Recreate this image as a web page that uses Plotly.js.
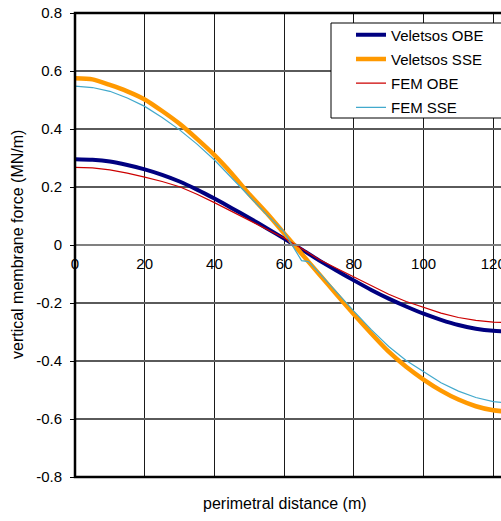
<!DOCTYPE html>
<html><head><meta charset="utf-8">
<script src="https://cdn.plot.ly/plotly-3.0.1.min.js"></script>
<style>html,body{margin:0;padding:0;overflow:hidden;background:#fff;width:501px;height:521px}</style>
</head><body><div id="chart"></div>
<script>
const seriesNames = ['Veletsos OBE','Veletsos SSE','FEM OBE','FEM SSE'];
const xVeletsos = [0,5,10,15,20,25,30,35,40,45,50,55,60,65,70,75,80,85,90,95,100,105,110,115,120,125.66];
const veletsosOBE = [0.296,0.294,0.288,0.276,0.261,0.242,0.219,0.191,0.160,0.127,0.093,0.058,0.022,-0.015,-0.053,-0.088,-0.122,-0.155,-0.185,-0.212,-0.237,-0.258,-0.276,-0.289,-0.296,-0.298];
const veletsosSSE = [0.575,0.571,0.552,0.530,0.502,0.462,0.418,0.366,0.310,0.246,0.175,0.110,0.040,-0.030,-0.100,-0.170,-0.239,-0.305,-0.368,-0.420,-0.464,-0.502,-0.533,-0.556,-0.570,-0.576];
const xFEM = [0,5,10,15,20,25,30,35,40,45,50,55,60,65,67,70,75,80,85,90,95,100,105,110,115,120,125.66];
const femOBE = [0.268,0.266,0.259,0.248,0.234,0.219,0.201,0.175,0.146,0.116,0.086,0.055,0.024,-0.012,-0.027,-0.050,-0.080,-0.110,-0.141,-0.170,-0.195,-0.216,-0.235,-0.250,-0.260,-0.266,-0.268];
const femSSE = [0.548,0.543,0.530,0.507,0.478,0.440,0.397,0.348,0.293,0.232,0.168,0.105,0.045,-0.054,-0.057,-0.095,-0.162,-0.228,-0.292,-0.350,-0.398,-0.438,-0.475,-0.504,-0.526,-0.540,-0.546];
const xTicks = [0,20,40,60,80,100,120];
const yTicks = [0.8,0.6,0.4,0.2,0,-0.2,-0.4,-0.6,-0.8];
const yTickText = ['0.8','0.6','0.4','0.2','0','-0.2','-0.4','-0.6','-0.8'];
const xTitle = 'perimetral distance (m)';
const yTitle = 'vertical membrane force (MN/m)';

const font = 'Liberation Sans, Arial, sans-serif';
const colors = ['#000080','#FF9900','#CC0000','#42A9CC'];
const widths = [4,4.5,1.2,1.2];
const xs = [xVeletsos,xVeletsos,xFEM,xFEM];
const ys = [veletsosOBE,veletsosSSE,femOBE,femSSE];
const traces = seriesNames.map((n,i)=>({
  x: xs[i], y: ys[i], name: n, type:'scatter', mode:'lines',
  legendgroup: 'g'+i,
  line:{color:colors[i], width:widths[i], shape: i<2?'spline':'linear', smoothing:0.6}
}));

const L=75, T=13, B=477, R=513, W=520, H=521;
const pw=R-L, ph=B-T;
const px = v => (v-L)/pw;
const py = v => (B-v)/ph;

const layout = {
  width:W, height:H,
  margin:{l:L, r:W-R, t:T, b:H-B, pad:0},
  paper_bgcolor:'#fff', plot_bgcolor:'#fff',
  font:{family:font, size:15, color:'#000'},
  showlegend:true,
  legend:{x:px(351), y:py(18.5), xanchor:'left', yanchor:'top', bgcolor:'rgba(0,0,0,0)',
    borderwidth:0, font:{family:font,size:15,color:'#000'}, traceorder:'grouped', tracegroupgap:1.7},
  xaxis:{range:[0,125.66], anchor:'free', position:0.5, tickvals:xTicks, ticks:'',
    showline:true, linecolor:'#808080', linewidth:2, showgrid:true, gridcolor:'#1a1a1a', gridwidth:1,
    zeroline:false, tickfont:{family:font,size:15,color:'#000'}, ticklabelstandoff:5},
  yaxis:{range:[-0.8,0.8], tickvals:yTicks, ticktext:yTickText, ticks:'outside', ticklen:4, tickcolor:'#000', tickwidth:1,
    showline:false, showgrid:true, gridcolor:'#5a5a5a', gridwidth:1.5, zeroline:false,
    tickfont:{family:font,size:15,color:'#000'}, ticklabelstandoff:5},
  shapes:[
    {type:'rect', xref:'paper', yref:'paper', x0:0, x1:1, y0:0, y1:1, line:{color:'#000', width:2.5}, layer:'above'},
    {type:'rect', xref:'paper', yref:'paper', x0:px(331), x1:px(522), y0:py(118), y1:py(23), line:{color:'#000', width:1}, fillcolor:'#fff', layer:'above'}
  ],
  annotations:[
    {text:xTitle, xref:'paper', yref:'paper', x:px(285), y:py(503), xanchor:'center', yanchor:'middle', showarrow:false, font:{family:font,size:16,color:'#000'}},
    {text:yTitle, xref:'paper', yref:'paper', x:px(17), y:py(245), xanchor:'center', yanchor:'middle', textangle:-90, showarrow:false, font:{family:font,size:16,color:'#000'}}
  ]
};
Plotly.newPlot('chart', traces, layout, {displayModeBar:false, staticPlot:true});
</script></body></html>
